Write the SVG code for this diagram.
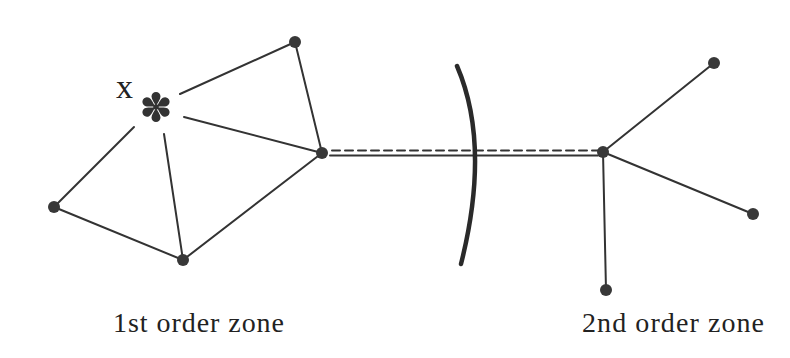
<svg xmlns="http://www.w3.org/2000/svg" width="790" height="358" viewBox="0 0 790 358">
<style>
.e{stroke:#333;stroke-width:2;fill:none;stroke-linecap:round}
.n{fill:#383838}
.t{font-family:"Liberation Serif","Times New Roman",serif;fill:#222}
.p{fill:#333}
</style>
<defs>
<path id="petal" d="M0,-1 C-1.5,-4 -4.5,-7.5 -4.5,-10.5 A4.5,4.5 0 0 1 4.5,-10.5 C4.5,-7.5 1.5,-4 0,-1 Z"/>
</defs>
<rect width="790" height="358" fill="#fff"/>
<g id="connectors">
<line class="e" x1="180" y1="94" x2="295" y2="42"/>
<line class="e" x1="295" y1="42" x2="322" y2="153"/>
<line class="e" x1="184" y1="117" x2="322" y2="153"/>
<line class="e" x1="54" y1="207" x2="134" y2="127"/>
<line class="e" x1="183" y1="260" x2="164" y2="134"/>
<line class="e" x1="54" y1="207" x2="183" y2="260"/>
<line class="e" x1="183" y1="260" x2="322" y2="153"/>
<line class="e" x1="332" y1="150.5" x2="598" y2="150.5" stroke-dasharray="8 5" stroke-linecap="butt"/>
<line class="e" x1="330" y1="155.5" x2="598" y2="155.5"/>
<line class="e" x1="603" y1="152" x2="714" y2="63"/>
<line class="e" x1="603" y1="152" x2="753" y2="214"/>
<line class="e" x1="603" y1="152" x2="606" y2="290"/>
</g>
<path id="boundary" d="M457,66 Q491,145 461,264" fill="none" stroke="#2a2a2a" stroke-width="4.5" stroke-linecap="round"/>
<g id="x-star">
<g transform="translate(156,107)" class="p">
<use href="#petal"/>
<use href="#petal" transform="rotate(60)"/>
<use href="#petal" transform="rotate(120)"/>
<use href="#petal" transform="rotate(180)"/>
<use href="#petal" transform="rotate(240)"/>
<use href="#petal" transform="rotate(300)"/>
<circle r="2.8"/>
</g>
<text class="t" x="116" y="98" font-size="34">x</text>
</g>
<g id="nA"><circle class="n" cx="295" cy="42" r="6"/></g>
<g id="nB"><circle class="n" cx="322" cy="153" r="6"/></g>
<g id="nC"><circle class="n" cx="54" cy="207" r="6"/></g>
<g id="nD"><circle class="n" cx="183" cy="260" r="6"/></g>
<g id="nE"><circle class="n" cx="603" cy="152" r="6"/></g>
<g id="nF"><circle class="n" cx="714" cy="63" r="6"/></g>
<g id="nG"><circle class="n" cx="753" cy="214" r="6"/></g>
<g id="nH"><circle class="n" cx="606" cy="290" r="6"/></g>
<text class="t" x="113" y="332" font-size="28" textLength="171" lengthAdjust="spacing">1st order zone</text>
<text class="t" x="582" y="332" font-size="28" textLength="182" lengthAdjust="spacing">2nd order zone</text>
</svg>
